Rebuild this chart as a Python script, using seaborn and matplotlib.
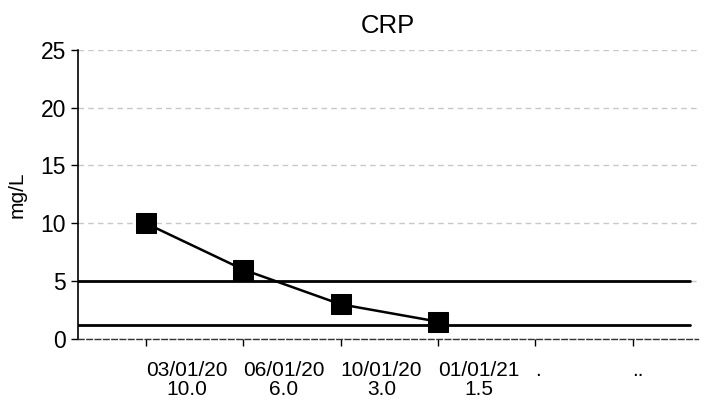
import matplotlib
matplotlib.use("Agg")
from matplotlib import pyplot as plt
import seaborn as sns
import pandas as pd

# chart data
dates = ["03/01/20", "06/01/20", "10/01/20", "01/01/21", ".", ".."]
crp_values = [10.0, 6.0, 3.0, 1.5]
upper_limit = 5.0
lower_limit = 1.25

df = pd.DataFrame({"pos": range(len(crp_values)), "crp": crp_values})

sns.set_style("white")
plt.rcParams["font.family"] = ["Liberation Sans", "DejaVu Sans"]
plt.rcParams["text.color"] = "black"
plt.rcParams["axes.labelcolor"] = "black"

fig = plt.figure(figsize=(7.07, 4.05), dpi=100)
ax = fig.add_axes([0.110, 0.163, 0.877, 0.714])

# reference limits
ax.axhline(upper_limit, xmin=0, xmax=0.987, color="black", lw=2, zorder=2)
ax.axhline(lower_limit, xmin=0, xmax=0.987, color="black", lw=2, zorder=2)

sns.lineplot(data=df, x="pos", y="crp", marker="s", markersize=14,
             markeredgecolor="black", color="black", lw=1.8, ax=ax, zorder=3)

ax.set_xlim(-0.7, 5.67)
ax.set_ylim(0, 25)
ax.set_yticks(range(0, 26, 5))
ax.yaxis.grid(True, color="#c8c8c8", linestyle=(0, (4, 3)), lw=1)

labels = []
for i, d in enumerate(dates):
    if i < len(crp_values):
        labels.append(f"{d}\n{crp_values[i]:.1f}")
    else:
        labels.append(d)
ax.set_xticks(range(len(dates)))
ax.set_xticklabels(labels, ha="left", multialignment="center", linespacing=1.0)

ax.tick_params(axis="both", direction="out", length=5, width=1, colors="black",
               bottom=True, left=True)
ax.tick_params(axis="x", pad=11, labelsize=15)
ax.tick_params(axis="y", labelsize=16.5)

ax.set_xlabel("")
ax.set_ylabel("mg/L", fontsize=15, labelpad=10)
ax.set_title("CRP", fontsize=18.5, pad=12, color="black")

for s in ["top", "right"]:
    ax.spines[s].set_visible(False)
ax.spines["left"].set_color("black")
ax.spines["left"].set_linewidth(1.2)
ax.spines["bottom"].set_color("#333333")
ax.spines["bottom"].set_linestyle((0, (4, 2)))
ax.spines["bottom"].set_linewidth(1)

fig.savefig("out.png", dpi=100)
